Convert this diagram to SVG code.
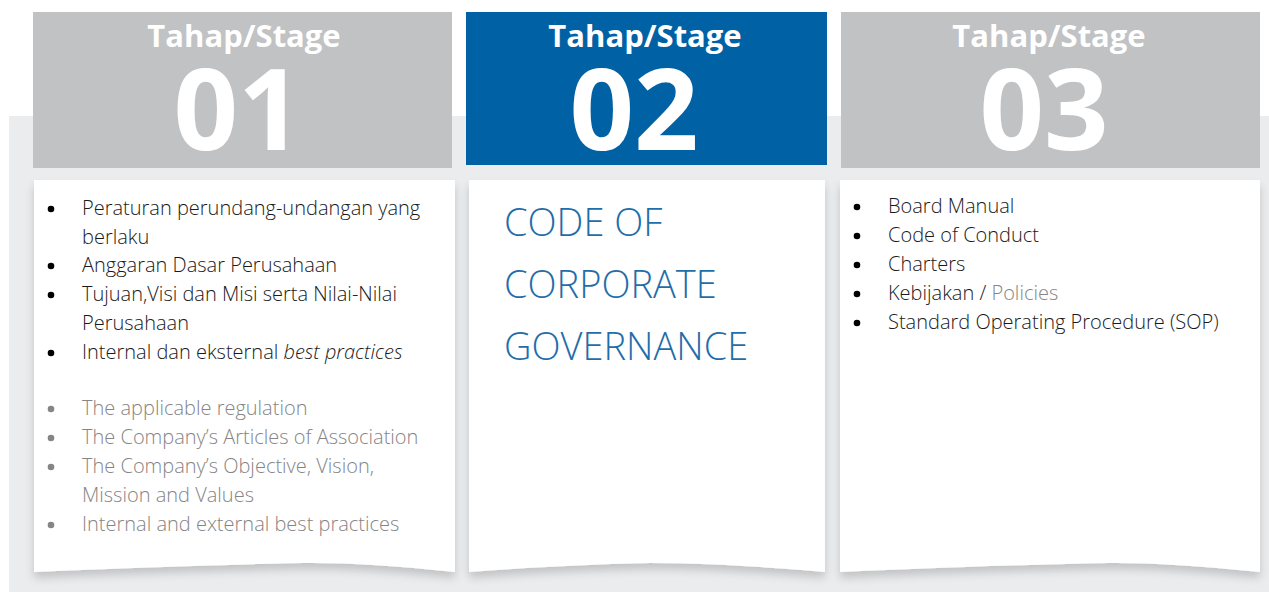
<svg xmlns="http://www.w3.org/2000/svg" width="1269" height="592" viewBox="0 0 1269 592">
<defs>
<filter id="sh" x="-5%" y="-5%" width="110%" height="115%">
<feGaussianBlur in="SourceAlpha" stdDeviation="5"/>
<feOffset dx="0" dy="6" result="b"/>
<feComponentTransfer><feFuncA type="linear" slope="0.18"/></feComponentTransfer>
<feMerge><feMergeNode/><feMergeNode in="SourceGraphic"/></feMerge>
</filter>
</defs>
<style>
.bg{fill:#EBECEE}
.hg{fill:#C1C2C4}
.hb{fill:#0061A4}
.card{fill:#FFFFFF;filter:url(#sh)}
.st{font-family:"Open Sans","Noto Sans",sans-serif;font-weight:700;font-size:31px;fill:#fff;text-anchor:middle}
.num{font-family:"Open Sans","Noto Sans",sans-serif;font-weight:700;font-size:113px;fill:#fff;text-anchor:middle}
.t{font-family:"Open Sans","Noto Sans",sans-serif;font-weight:300;font-size:20px;fill:#1a1a1a}
.g{fill:#858585}
.b{fill:#000}
.bg2{fill:#858585}
.cg{font-family:"Open Sans","Noto Sans",sans-serif;font-weight:300;font-size:38px;fill:#1F6DA9}
</style>
<rect class="bg" x="9" y="116" width="1260" height="476"/>
<g id="stage1">
<rect class="hg" x="33" y="12" width="419" height="156"/>
<text class="st" x="244" y="47">Tahap/Stage</text>
<text class="num" x="238" y="150">01</text>
<path class="card" d="M34 180 H455 V572 Q360 562 303 563 Q200 565 34 572 Z"/>
<g class="t">
<circle class="b" cx="51" cy="209" r="3.3"/>
<text x="82" y="215">Peraturan perundang-undangan yang</text>
<text x="82" y="244">berlaku</text>
<circle class="b" cx="51" cy="266" r="3.3"/>
<text x="82" y="272">Anggaran Dasar Perusahaan</text>
<circle class="b" cx="51" cy="295" r="3.3"/>
<text x="82" y="301">Tujuan,Visi dan Misi serta Nilai-Nilai</text>
<text x="82" y="330">Perusahaan</text>
<circle class="b" cx="51" cy="353" r="3.3"/>
<text x="82" y="359">Internal dan eksternal <tspan font-style="italic">best practices</tspan></text>
<circle class="bg2" cx="51" cy="409" r="3.3"/>
<text class="g" x="82" y="415">The applicable regulation</text>
<circle class="bg2" cx="51" cy="438" r="3.3"/>
<text class="g" x="82" y="444">The Company’s Articles of Association</text>
<circle class="bg2" cx="51" cy="467" r="3.3"/>
<text class="g" x="82" y="473">The Company’s Objective, Vision,</text>
<text class="g" x="82" y="502">Mission and Values</text>
<circle class="bg2" cx="51" cy="525" r="3.3"/>
<text class="g" x="82" y="531">Internal and external best practices</text>
</g>
</g>
<g id="stage2">
<rect class="hb" x="466" y="12" width="361" height="153"/>
<text class="st" x="645" y="47">Tahap/Stage</text>
<text class="num" x="634" y="150">02</text>
<path class="card" d="M469 180 H825 V572 Q720 563 650 563 Q560 565 469 572 Z"/>
<text class="cg" x="504" y="236">CODE OF</text>
<text class="cg" x="504" y="298">CORPORATE</text>
<text class="cg" x="504" y="360">GOVERNANCE</text>
</g>
<g id="stage3">
<rect class="hg" x="841" y="12" width="419" height="156"/>
<text class="st" x="1049" y="47">Tahap/Stage</text>
<text class="num" x="1044" y="150">03</text>
<path class="card" d="M840 180 H1260 V572 Q1160 562 1108 563 Q1000 565 840 572 Z"/>
<g class="t">
<circle class="b" cx="857" cy="207" r="3.3"/>
<text x="888" y="213">Board Manual</text>
<circle class="b" cx="857" cy="236" r="3.3"/>
<text x="888" y="242">Code of Conduct</text>
<circle class="b" cx="857" cy="265" r="3.3"/>
<text x="888" y="271">Charters</text>
<circle class="b" cx="857" cy="294" r="3.3"/>
<text x="888" y="300">Kebijakan / <tspan class="g">Policies</tspan></text>
<circle class="b" cx="857" cy="323" r="3.3"/>
<text x="888" y="329">Standard Operating Procedure (SOP)</text>
</g>
</g>
</svg>
